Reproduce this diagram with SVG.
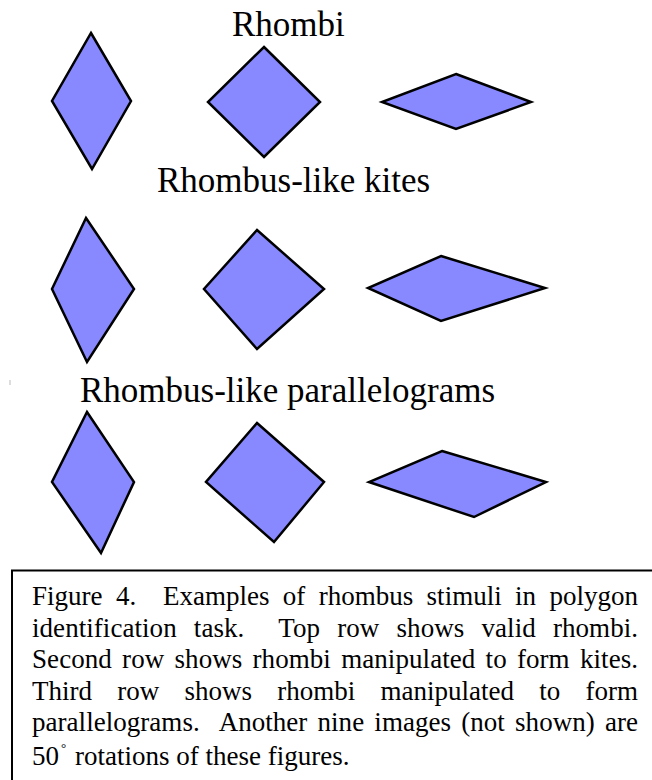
<svg xmlns="http://www.w3.org/2000/svg" width="652" height="780" viewBox="0 0 652 780">
<style>
.shape{fill:#8888FF;stroke:#000;stroke-width:2.5;stroke-linejoin:miter}
.title{font-family:"Liberation Serif","Times New Roman",serif;font-size:35px;fill:#000}
.cap{font-family:"Liberation Serif","Times New Roman",serif;font-size:27px;fill:#000}
</style>
<rect x="0" y="0" width="652" height="780" fill="#fff"/>
<g id="titles">
<text class="title" x="232" y="36">Rhombi</text>
<text class="title" x="157" y="192">Rhombus-like kites</text>
<text class="title" x="80" y="402">Rhombus-like parallelograms</text>
</g>
<g id="row1">
<polygon id="r1s1" class="shape" points="91,33 131,101 92,169 52,101"/>
<polygon id="r1s2" class="shape" points="264,47 320,102 264,157 208,102"/>
<polygon id="r1s3" class="shape" points="456,74 531,102 456,129 382,102"/>
</g>
<g id="row2">
<polygon id="r2s1" class="shape" points="86,218 134,289 87,362 52,289"/>
<polygon id="r2s2" class="shape" points="257,230 324,289 257,349 204,289"/>
<polygon id="r2s3" class="shape" points="441,256 545,288 441,321 368,288"/>
</g>
<g id="row3">
<polygon id="r3s1" class="shape" points="87,412 134,482 101,553 52,482"/>
<polygon id="r3s2" class="shape" points="257,423 324,482 274,542 206,482"/>
<polygon id="r3s3" class="shape" points="442,451 546,482 474,517 369,482"/>
</g>
<line x1="10" y1="380" x2="10" y2="385" stroke="#bbb" stroke-width="1"/>
<g id="caption">
<path d="M12,780 V570.5 H652" fill="none" stroke="#000" stroke-width="2"/>
<text class="cap" xml:space="preserve" x="32" y="605" word-spacing="6.6" textLength="606" lengthAdjust="spacing">Figure 4.  Examples of rhombus stimuli in polygon</text>
<text class="cap" xml:space="preserve" x="32" y="636.5" word-spacing="10.4" textLength="606" lengthAdjust="spacing">identification task.  Top row shows valid rhombi.</text>
<text class="cap" x="32" y="668" word-spacing="3.4" textLength="606" lengthAdjust="spacing">Second row shows rhombi manipulated to form kites.</text>
<text class="cap" x="32" y="699.5" word-spacing="18.5" textLength="606" lengthAdjust="spacing">Third row shows rhombi manipulated to form</text>
<text class="cap" xml:space="preserve" x="32" y="731" word-spacing="3.4" textLength="606" lengthAdjust="spacing">parallelograms.  Another nine images (not shown) are</text>
<text class="cap" x="32" y="765">50<tspan x="61" dy="-13" font-size="13">°</tspan><tspan x="75" dy="13">rotations of these figures.</tspan></text>
</g>
</svg>
